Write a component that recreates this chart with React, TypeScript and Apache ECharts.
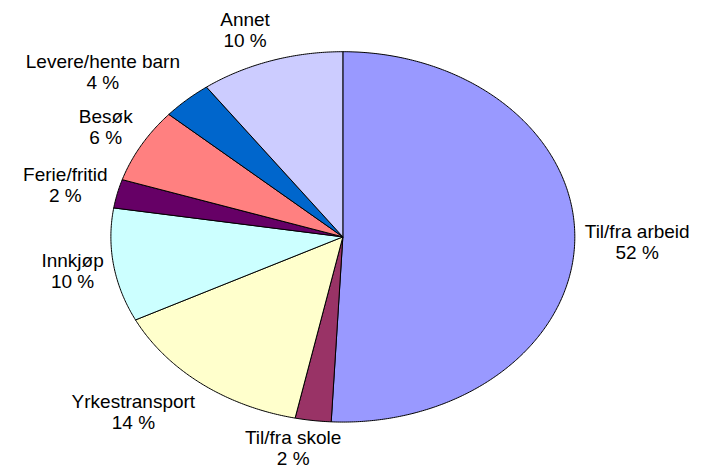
import React, { useEffect, useRef } from "react";
import * as echarts from "echarts";

const categories = [
  "Til/fra arbeid",
  "Til/fra skole",
  "Yrkestransport",
  "Innkjøp",
  "Ferie/fritid",
  "Besøk",
  "Levere/hente barn",
  "Annet",
];
const values = [50.8, 2.5, 14.3, 9.9, 2.5, 6.5, 3.5, 10.0];
const percentLabels = ["52 %", "2 %", "14 %", "10 %", "2 %", "6 %", "4 %", "10 %"];
const colors = ["#9999FF", "#993366", "#FFFFCC", "#CCFFFF", "#660066", "#FF8080", "#0066CC", "#CCCCFF"];

const FONT_SIZE = 19;
const LINE_H = 21;
const FONT_FAMILY = '"Liberation Sans", Arial, sans-serif';

export default function App() {
  const ref = useRef<HTMLDivElement>(null);

  useEffect(() => {
    document.body.style.margin = "0";
    if (!ref.current) return;
    const chart = echarts.init(ref.current, undefined, { renderer: "svg" });

    const total = values.reduce((a, b) => a + b, 0);
    const cum: number[] = [];
    let acc = 0;
    values.forEach((v) => {
      cum.push(acc);
      acc += v;
    });
    const data = values.map((v, i) => [v, cum[i]]);

    const canvas = document.createElement("canvas");
    const ctx = canvas.getContext("2d");
    const measure = (s: string) => {
      if (!ctx) return s.length * FONT_SIZE * 0.5;
      ctx.font = `${FONT_SIZE}px ${FONT_FAMILY}`;
      return ctx.measureText(s).width;
    };
    const clamp = (v: number) => Math.max(-1, Math.min(1, v));

    const renderItem = (params: any, api: any) => {
      const i = params.dataIndex;
      const v = api.value(0);
      const s = api.value(1);
      const W = api.getWidth();
      const H = api.getHeight();
      const cx = W * 0.487;
      const cy = H * 0.504;
      const rx = W * 0.3295;
      const ry = H * 0.394;
      const a0 = (s / total) * Math.PI * 2;
      const a1 = ((s + v) / total) * Math.PI * 2;
      const steps = Math.max(2, Math.ceil(((a1 - a0) * 180) / Math.PI / 0.5));
      const pts: number[][] = [[cx, cy]];
      for (let k = 0; k <= steps; k++) {
        const t = a0 + ((a1 - a0) * k) / steps;
        pts.push([cx + rx * Math.sin(t), cy - ry * Math.cos(t)]);
      }
      const mid = (a0 + a1) / 2;
      const sn = Math.sin(mid);
      const cs = Math.cos(mid);
      const ex = cx + rx * sn;
      const ey = cy - ry * cs;
      const w = Math.max(measure(categories[i]), measure(percentLabels[i]));
      const h = LINE_H * 2;
      const d = 10;
      const lx = ex + d * sn + (w / 2) * clamp(sn * 3);
      let ly = ey - d * cs - (h / 2) * clamp(cs * 1.3);
      ly = Math.min(ly, H - h / 2 - 1);
      ly = Math.max(ly, h / 2 + 1);
      return {
        type: "group",
        children: [
          {
            type: "polygon",
            shape: { points: pts },
            style: { fill: colors[i], stroke: "#000000", lineWidth: 1 },
          },
          {
            type: "text",
            x: lx,
            y: ly,
            style: {
              text: categories[i] + "\n" + percentLabels[i],
              fill: "#000000",
              fontSize: FONT_SIZE,
              fontFamily: FONT_FAMILY,
              align: "center",
              verticalAlign: "middle",
              lineHeight: LINE_H,
            },
          },
        ],
      };
    };

    chart.setOption({
      animation: false,
      backgroundColor: "#ffffff",
      series: [
        {
          type: "custom",
          coordinateSystem: "none",
          dimensions: ["value", "start"],
          renderItem,
          data,
        },
      ],
    });

    return () => chart.dispose();
  }, []);

  return <div ref={ref} style={{ width: 704, height: 470 }} />;
}
